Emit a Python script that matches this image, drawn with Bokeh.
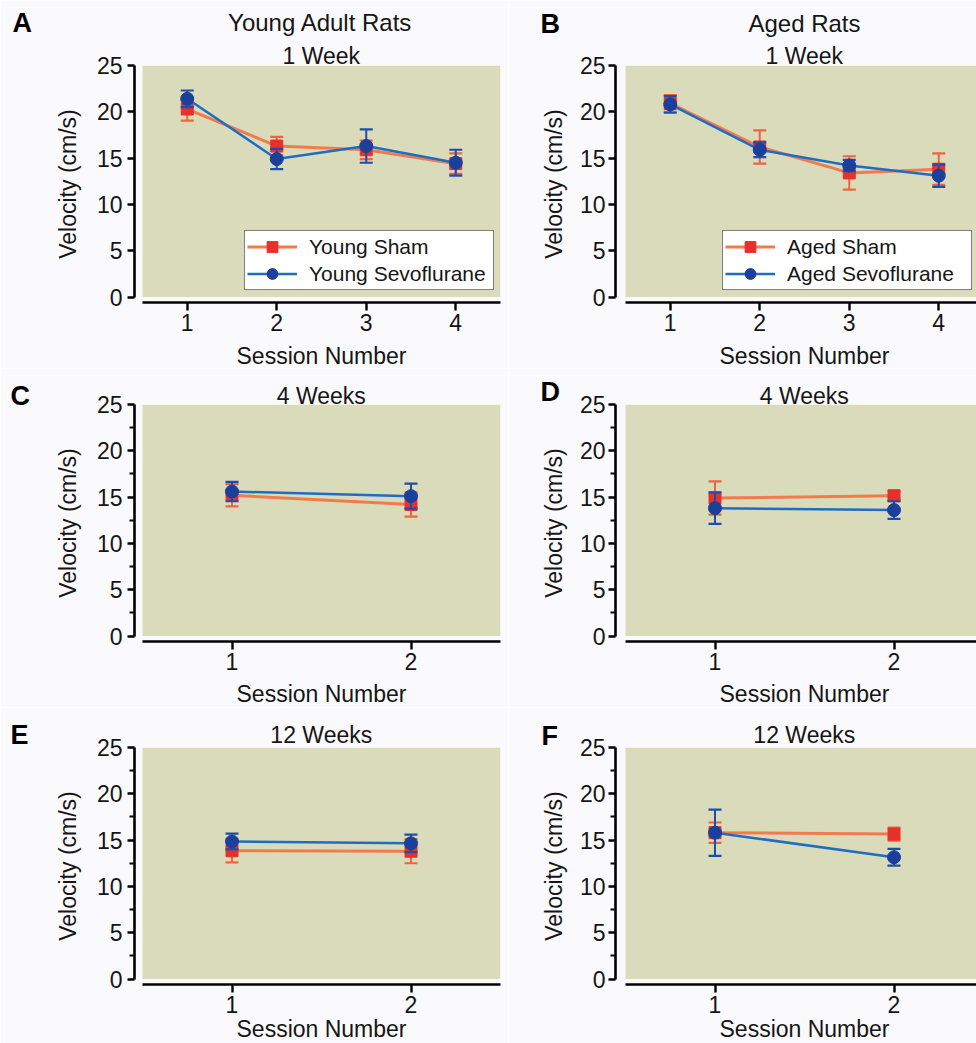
import numpy as np
from bokeh.plotting import figure
from bokeh.models import Range1d, BoxAnnotation, Legend, LegendItem, Title, FixedTicker
from bokeh.layouts import column, row
from bokeh.embed import file_html
from bokeh.resources import INLINE

# ---------------- data ----------------
sessions_1wk = [1, 2, 3, 4]
sessions_4wk = [1, 2]
sessions_12wk = [1, 2]

young_sham_1wk = [20.3, 16.3, 15.9, 14.4]
young_sham_1wk_err = [1.25, 1.0, 1.0, 1.1]
young_sevo_1wk = [21.4, 14.9, 16.3, 14.5]
young_sevo_1wk_err = [0.9, 1.1, 1.8, 1.4]

aged_sham_1wk = [20.9, 16.2, 13.4, 13.8]
aged_sham_1wk_err = [0.9, 1.8, 1.8, 1.7]
aged_sevo_1wk = [20.8, 15.9, 14.2, 13.1]
aged_sevo_1wk_err = [0.9, 0.8, 0.6, 1.2]

young_sham_4wk = [15.2, 14.2]
young_sham_4wk_err = [1.2, 1.3]
young_sevo_4wk = [15.6, 15.1]
young_sevo_4wk_err = [1.05, 1.35]

aged_sham_4wk = [14.9, 15.15]
aged_sham_4wk_err = [1.8, 0.5]
aged_sevo_4wk = [13.8, 13.6]
aged_sevo_4wk_err = [1.7, 0.95]

young_sham_12wk = [13.85, 13.8]
young_sham_12wk_err = [1.25, 1.3]
young_sevo_12wk = [14.85, 14.65]
young_sevo_12wk_err = [0.85, 0.95]

aged_sham_12wk = [15.8, 15.65]
aged_sham_12wk_err = [1.1, 0.7]
aged_sevo_12wk = [15.8, 13.15]
aged_sevo_12wk_err = [2.5, 0.9]

y_ticks = [0, 5, 10, 15, 20, 25]
y_minor = [2.5, 7.5, 12.5, 17.5, 22.5]

# ---------------- style ----------------
FONT = "Liberation Sans"
BG = "#FAFAFC"
GREEN = "#D9DBBB"
SHAM_LINE = "#F27B4E"
SHAM_MARK = "#E6312B"
SHAM_ERR = "#EE6440"
SEVO_LINE = "#1F6DC2"
SEVO_MARK = "#1B3F9C"
SEVO_ERR = "#1D4FAA"
TXT = "#151515"

FRAME_H = 237
Y_SPAN_PX = 231.5          # pixels from 0 to 25
LEFT_W, RIGHT_W = 508, 468
LEFT_BL, RIGHT_BL = 134, 107
H_FACTOR = 1.13            # estimated text-box height / font size
AXIS_H = 31                # measured height of the x-axis panel
SP_FS = 10                 # font size of the spacer titles

# Arial / Liberation Sans advance widths (1/1000 em)
AW = {" ": 278, "1": 556, "2": 556, "4": 556, "A": 667, "R": 722, "S": 667, "N": 722,
      "W": 944, "Y": 667, "a": 556, "b": 556, "d": 556, "e": 556, "g": 556, "i": 222,
      "k": 500, "l": 222, "m": 833, "n": 556, "o": 556, "r": 333, "s": 500, "t": 278,
      "u": 556}


def text_w(s, px):
    return sum(AW.get(c, 556) for c in s) * px / 1000.0


def spacer(size):
    # a background-coloured dot whose panel height reserves `size` pixels
    return Title(text=".", text_font=FONT, text_font_size=f"{SP_FS}px", text_color=BG,
                 align="left", vertical_align="middle",
                 standoff=size - 2 - SP_FS * H_FACTOR)


def zero_title(text, fs, offset, bold=False):
    return Title(text=text, text_font=FONT, text_font_size=f"{fs}px",
                 text_font_style="bold" if bold else "normal",
                 text_color="black" if bold else TXT, align="left",
                 vertical_align="middle", offset=offset,
                 standoff=-(2 + fs * H_FACTOR))


def stack(p, place, items, start=0):
    """items: (distance of text centre from the frame edge, text, font px, left offset, bold)"""
    cur = start
    for dist, text, fs, off, bold in sorted(items, key=lambda t: t[0]):
        gap = dist - cur
        if gap > 0.5:
            p.add_layout(spacer(gap), place)
            cur = dist
        p.add_layout(zero_title(text, fs, off, bold), place)


def series(p, xs, mean, err, line_color, mark_color, err_color, marker, size, lw):
    m = np.array(mean, dtype=float)
    e = np.array(err, dtype=float)
    lo, hi = list(m - e), list(m + e)
    p.segment(x0=xs, y0=lo, x1=xs, y1=hi, line_color=err_color, line_width=2)
    p.scatter(x=xs, y=hi, marker="dash", size=13, line_color=err_color, line_width=2.2)
    p.scatter(x=xs, y=lo, marker="dash", size=13, line_color=err_color, line_width=2.2)
    lr = p.line(x=xs, y=mean, line_color=line_color, line_width=lw)
    mr = p.scatter(x=xs, y=mean, marker=marker, size=size, fill_color=mark_color,
                   line_color=mark_color)
    return lr, mr


def panel(side, sessions, sham, sham_err, sevo, sevo_err, height, b_top,
          titles, letter, letter_dist, letter_left, xlabel_dist, minor, legend_labels=None):
    n = len(sessions)
    if side == "left":
        width, bl, br, gap = LEFT_W, LEFT_BL, 8, 8
    else:
        width, bl, br, gap = RIGHT_W, RIGHT_BL, 0, 10
    frame_w = width - bl - br
    pxu = 358.0 / n
    x0 = 0.5 - gap / pxu
    x1 = x0 + frame_w / pxu
    y0 = -(FRAME_H - Y_SPAN_PX) * 25.0 / Y_SPAN_PX
    p = figure(width=width, height=height, title=None, toolbar_location=None,
               output_backend="svg", x_range=Range1d(x0, x1), y_range=Range1d(y0, 25),
               min_border_left=bl, min_border_right=br, min_border_top=b_top,
               min_border_bottom=height - b_top - FRAME_H,
               background_fill_color=BG, border_fill_color=BG, outline_line_color=None)
    p.grid.visible = False
    p.add_layout(BoxAnnotation(left=0.5, right=n + 0.5, bottom=0, top=25,
                               fill_color=GREEN, fill_alpha=1, line_color=None,
                               level="underlay"))

    sl, sm = series(p, sessions, sham, sham_err, SHAM_LINE, SHAM_MARK, SHAM_ERR, "square", 12, 3)
    vl, vm = series(p, sessions, sevo, sevo_err, SEVO_LINE, SEVO_MARK, SEVO_ERR, "circle", 13, 2.5)

    xa, ya = p.xaxis[0], p.yaxis[0]
    for ax in (xa, ya):
        ax.axis_line_width = 2.6
        ax.axis_line_color = "black"
        ax.major_tick_line_width = 2.4
        ax.major_tick_line_color = "black"
        ax.major_tick_in = 0
        ax.major_label_text_font = FONT
        ax.major_label_text_font_size = "23px"
        ax.major_label_text_color = TXT
        ax.axis_label_text_font = FONT
        ax.axis_label_text_font_size = "23px"
        ax.axis_label_text_font_style = "normal"
        ax.axis_label_text_color = TXT
    xa.ticker = FixedTicker(ticks=sessions)
    xa.bounds = (0.5, n + 0.5)
    xa.major_tick_out = 8
    xa.major_label_standoff = 3
    xa.minor_tick_line_color = None
    ya.bounds = (0, 25)
    ya.major_tick_out = 7
    if minor:
        ya.ticker = FixedTicker(ticks=y_ticks, minor_ticks=y_minor)
        ya.minor_tick_out = 5
        ya.minor_tick_in = 0
        ya.minor_tick_line_width = 2
        ya.minor_tick_line_color = "black"
    else:
        ya.ticker = FixedTicker(ticks=y_ticks)
        ya.minor_tick_line_color = None
    ya.axis_label = "Velocity (cm/s)"
    if side == "left":
        ya.major_label_standoff = 5
        ya.axis_label_standoff = 13
    else:
        ya.major_label_standoff = 3
        ya.axis_label_standoff = 10

    # centre of the shaded area, in pixels from the frame's left edge
    cx = gap + 179.0

    def left_off(text, fs):
        return cx - text_w(text, fs) / 2.0

    items = [(d, t, fs, left_off(t, fs), False) for t, d, fs in titles]
    items.append((letter_dist, letter, 27,
                  letter_left - bl - (0 if side == "left" else LEFT_W), True))
    stack(p, "above", items)
    stack(p, "below", [(xlabel_dist, "Session Number", 23,
                        left_off("Session Number", 23), False)], start=AXIS_H)

    if legend_labels:
        leg = Legend(items=[LegendItem(label=legend_labels[0], renderers=[sl, sm]),
                            LegendItem(label=legend_labels[1], renderers=[vl, vm])],
                     location=(110 if side == "left" else 107, 12),
                     glyph_width=50, glyph_height=27, label_height=27, spacing=0,
                     label_standoff=12, padding=2, margin=0, label_width=182,
                     border_line_color="black", border_line_width=1.5,
                     background_fill_color="white", background_fill_alpha=1,
                     label_text_font=FONT, label_text_font_size="21px",
                     label_text_color=TXT)
        p.add_layout(leg)
    return p


H1, H2, H3 = 368, 339, 336
pA = panel("left", sessions_1wk, young_sham_1wk, young_sham_1wk_err, young_sevo_1wk,
           young_sevo_1wk_err, H1, 65,
           [("Young Adult Rats", 49, 24), ("1 Week", 13, 23)], "A", 49, 12, 56, False,
           ["Young Sham", "Young Sevoflurane"])
pB = panel("right", sessions_1wk, aged_sham_1wk, aged_sham_1wk_err, aged_sevo_1wk,
           aged_sevo_1wk_err, H1, 65,
           [("Aged Rats", 48, 24), ("1 Week", 13, 23)], "B", 48, 540, 56, False,
           ["Aged Sham", "Aged Sevoflurane"])
pC = panel("left", sessions_4wk, young_sham_4wk, young_sham_4wk_err, young_sevo_4wk,
           young_sevo_4wk_err, H2, 36, [("4 Weeks", 12, 23)], "C", 12, 10, 55, True)
pD = panel("right", sessions_4wk, aged_sham_4wk, aged_sham_4wk_err, aged_sevo_4wk,
           aged_sevo_4wk_err, H2, 36, [("4 Weeks", 12, 23)], "D", 19.5, 540, 55, True)
pE = panel("left", sessions_12wk, young_sham_12wk, young_sham_12wk_err, young_sevo_12wk,
           young_sevo_12wk_err, H3, 40, [("12 Weeks", 16, 23)], "E", 16, 10, 47, True)
pF = panel("right", sessions_12wk, aged_sham_12wk, aged_sham_12wk_err, aged_sevo_12wk,
           aged_sevo_12wk_err, H3, 40, [("12 Weeks", 19, 23)], "F", 15, 541, 47, True)

layout = column(row(pA, pB), row(pC, pD), row(pE, pF))
open("out.html", "w").write(file_html(layout, INLINE))
